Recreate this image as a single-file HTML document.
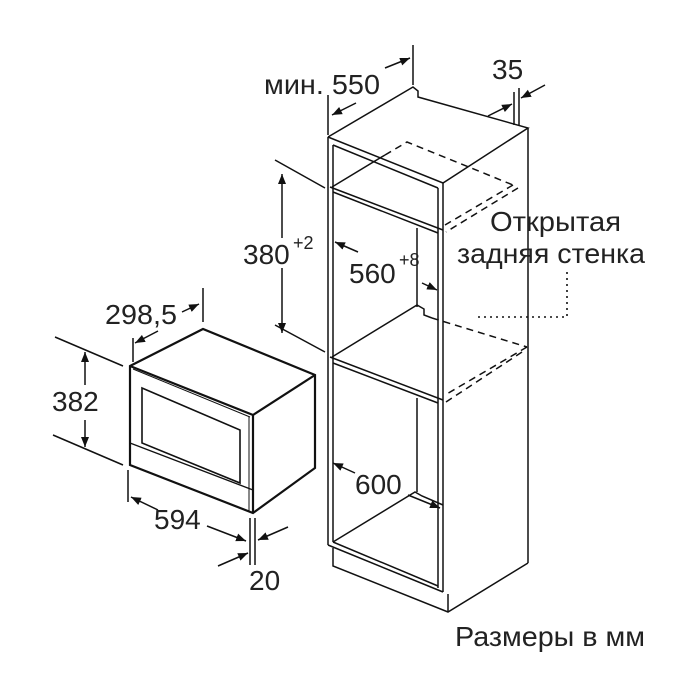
<!DOCTYPE html>
<html><head><meta charset="utf-8"><style>
html,body{margin:0;padding:0;background:#fff;width:700px;height:700px;overflow:hidden}
text{font-family:"Liberation Sans","DejaVu Sans",sans-serif;fill:#222}
</style></head><body>
<svg width="700" height="700" viewBox="0 0 700 700" xmlns="http://www.w3.org/2000/svg">
<defs>
<marker id="a" viewBox="0 0 10 10" refX="10" refY="5" markerWidth="10" markerHeight="10" orient="auto-start-reverse" markerUnits="userSpaceOnUse"><path d="M0,1 L10,5 L0,9 z" fill="#111"/></marker>
</defs>
<g stroke="#111" fill="none" stroke-width="1.5">
<path d="M328,137 L413,87 L418,91 L418,97 L528,128 L443,183 L328,137"/>
<line x1="328" y1="137" x2="328" y2="545"/>
<line x1="333" y1="145" x2="333" y2="542"/>
<line x1="443" y1="183" x2="443" y2="592"/>
<line x1="438" y1="188" x2="438" y2="588"/>
<line x1="333" y1="145" x2="438" y2="188"/>
<line x1="528" y1="128" x2="528" y2="563"/>
<path d="M333,548 L333,566 L448,612 L528,563"/>
<line x1="448" y1="594" x2="448" y2="612"/>
<path d="M328,545 L443,592"/>
<path d="M333,542 L438,586"/>
<path d="M330,187 L443,230"/>
<path d="M333,192 L438,233"/>
<path d="M332,187 L385,155"/>
<path d="M385,155 L407,142 L513,185 M513,185 L445,225 M518,188 L446,232" stroke-dasharray="7,5"/>
<line x1="417" y1="228" x2="417" y2="307"/>
<line x1="417" y1="398" x2="417" y2="492"/>
<path d="M330,357 L443,400"/>
<path d="M333,363 L438,403"/>
<path d="M332,357 L417,305 L424,309 L424,315 L432,318"/>
<path d="M432,318 L527,347 M527,347 L445,395 M522,352 L446,402" stroke-dasharray="7,5"/>
<path d="M333,542 L415,492 L422,496 L443,505"/>
<line x1="413" y1="45" x2="413" y2="85"/>
<line x1="328" y1="95" x2="328" y2="135"/>
<line x1="385" y1="68" x2="410" y2="58" marker-end="url(#a)"/>
<line x1="356" y1="103" x2="332" y2="115" marker-end="url(#a)"/>
<line x1="514" y1="92" x2="514" y2="125"/>
<line x1="519" y1="88" x2="519" y2="125"/>
<line x1="545" y1="85" x2="521" y2="98" marker-end="url(#a)"/>
<line x1="488" y1="116" x2="512" y2="104" marker-end="url(#a)"/>
<line x1="275" y1="160" x2="325" y2="188"/>
<line x1="275" y1="325" x2="325" y2="352"/>
<line x1="282" y1="238" x2="282" y2="174" marker-end="url(#a)"/>
<line x1="282" y1="268" x2="282" y2="333" marker-end="url(#a)"/>
<line x1="358" y1="252" x2="335" y2="242" marker-end="url(#a)"/>
<line x1="422" y1="283" x2="437" y2="290" marker-end="url(#a)"/>
<line x1="355" y1="473" x2="333" y2="463" marker-end="url(#a)"/>
<line x1="408" y1="495" x2="440" y2="508" marker-end="url(#a)"/>
<path d="M478,317 L567,317 L567,270" stroke-dasharray="2,4" stroke-width="1.6"/>
</g>
<g stroke="#111" fill="none" stroke-width="2.2">
<path d="M130,366 L203,329 L315,375 L315,468 L253,513 L130,465 Z"/>
<path d="M253,415 L315,375"/>
<path d="M130,366 L253,415 L253,513"/>
<path d="M142,388 L240,430 L240,483 L142,443 Z" stroke-width="1.6"/>
<path d="M130,443 L253,490" stroke-width="1.4"/>
<path d="M133,369 L250,417" stroke-width="1"/>
<path d="M249,417 L249,511" stroke-width="1"/>
</g>
<g stroke="#111" fill="none" stroke-width="1.5">
<line x1="55" y1="337" x2="123" y2="366"/>
<line x1="53" y1="435" x2="123" y2="465"/>
<line x1="85" y1="385" x2="85" y2="352" marker-end="url(#a)"/>
<line x1="85" y1="420" x2="85" y2="447" marker-end="url(#a)"/>
<line x1="203" y1="288" x2="203" y2="322"/>
<line x1="133" y1="338" x2="133" y2="362"/>
<line x1="182" y1="312" x2="199" y2="304" marker-end="url(#a)"/>
<line x1="158" y1="331" x2="135" y2="343" marker-end="url(#a)"/>
<line x1="128" y1="470" x2="128" y2="502"/>
<line x1="158" y1="510" x2="131" y2="497" marker-end="url(#a)"/>
<line x1="207" y1="526" x2="246" y2="541" marker-end="url(#a)"/>
<line x1="250" y1="518" x2="250" y2="565"/>
<line x1="255" y1="518" x2="255" y2="565"/>
<line x1="288" y1="527" x2="258" y2="540" marker-end="url(#a)"/>
<line x1="218" y1="566" x2="248" y2="553" marker-end="url(#a)"/>
</g>
<g font-size="28">
<text x="264" y="94" textLength="116" lengthAdjust="spacingAndGlyphs">мин. 550</text>
<text x="492" y="79">35</text>
<text x="243" y="264">380</text><text x="293" y="249" font-size="18">+2</text>
<text x="349" y="283">560</text><text x="399" y="266" font-size="18">+8</text>
<text x="490" y="231" textLength="131" lengthAdjust="spacingAndGlyphs">Открытая</text>
<text x="457" y="263" textLength="188" lengthAdjust="spacingAndGlyphs">задняя стенка</text>
<text x="355" y="494">600</text>
<text x="105" y="324" textLength="72" lengthAdjust="spacingAndGlyphs">298,5</text>
<text x="52" y="411">382</text>
<text x="154" y="529">594</text>
<text x="249" y="590">20</text>
<text x="455" y="646" textLength="190" lengthAdjust="spacingAndGlyphs">Размеры в мм</text>
</g>
</svg>
</body></html>
